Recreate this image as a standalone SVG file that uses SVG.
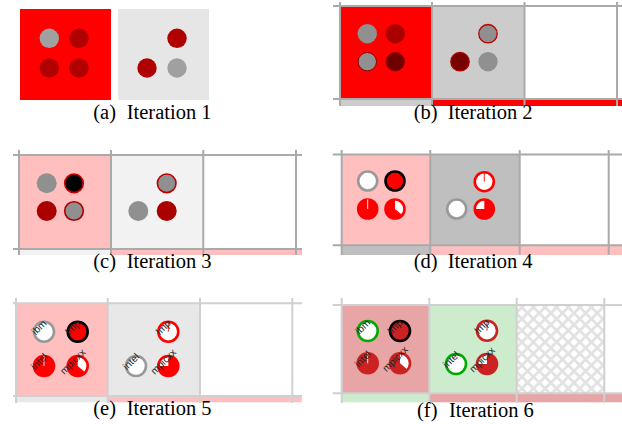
<svg xmlns="http://www.w3.org/2000/svg" width="622" height="424" viewBox="0 0 622 424">
<style>
.cap{font-family:"Liberation Serif",serif;font-size:20.5px;fill:#000}
.lbl{font-family:"Liberation Sans",sans-serif;font-size:10px;fill:#222;text-anchor:middle}
.gA{stroke:#aaaaaa;stroke-width:2;fill:none}
.gB{stroke:#d0d0d0;stroke-width:2;fill:none}
.pie{stroke-width:2.6}
</style>
<defs>
<pattern id="hatch" patternUnits="userSpaceOnUse" width="8.2" height="8.2" patternTransform="rotate(45)">
<rect width="8.2" height="8.2" fill="#ffffff"/>
<path d="M0,4.1H8.2M4.1,0V8.2" stroke="#e2e2e2" stroke-width="2.8"/>
</pattern>
</defs>
<rect width="622" height="424" fill="#ffffff"/>

<!-- (a) -->
<g id="panel-a">
<rect x="20" y="9" width="91" height="91" fill="#ff0000"/>
<rect x="118" y="9" width="91" height="91" fill="#e6e6e6"/>
<g id="a-n1"><circle cx="49.3" cy="38.3" r="9.7" fill="#a0a0a0"/></g>
<g id="a-n2"><circle cx="79" cy="38.3" r="9.7" fill="#b00000"/></g>
<g id="a-n3"><circle cx="49.3" cy="68" r="9.7" fill="#b00000"/></g>
<g id="a-n4"><circle cx="79" cy="68" r="9.7" fill="#b00000"/></g>
<g id="a-n5"><circle cx="177" cy="38.3" r="9.7" fill="#b00000"/></g>
<g id="a-n6"><circle cx="147" cy="68" r="9.7" fill="#b00000"/></g>
<g id="a-n7"><circle cx="177" cy="68" r="9.7" fill="#a0a0a0"/></g>
<text class="cap" y="119"><tspan x="93.3">(a)</tspan><tspan x="126.7">Iteration 1</tspan></text>
</g>

<!-- (b) -->
<g id="panel-b">
<rect x="340" y="6" width="92" height="93" fill="#ff0000"/>
<rect x="432" y="6" width="92.5" height="93" fill="#cccccc"/>
<rect x="340" y="99" width="92" height="7" fill="#cccccc"/>
<rect x="432" y="99" width="190" height="7" fill="#ff0000"/>
<g class="gA">
<path d="M333,6H622M333,99H622"/>
<path d="M340,2V106M432,2V106M524.5,2V106M617,2V106"/>
</g>
<g id="b-n1"><circle cx="367.3" cy="33.7" r="9.7" fill="#909090"/></g>
<g id="b-n2"><circle cx="395.3" cy="33.7" r="9.7" fill="#aa0000"/></g>
<g id="b-n3"><circle cx="367.3" cy="61.7" r="9.2" fill="#909090" stroke="#880000" stroke-width="1"/></g>
<g id="b-n4"><circle cx="395.3" cy="61.7" r="9.2" fill="#700000" stroke="#880000" stroke-width="1"/></g>
<g id="b-n5"><circle cx="488" cy="33.7" r="9.2" fill="#909090" stroke="#bb0000" stroke-width="1.3"/></g>
<g id="b-n6"><circle cx="460" cy="61.7" r="9.2" fill="#770000" stroke="#aa0000" stroke-width="1.3"/></g>
<g id="b-n7"><circle cx="488" cy="61.7" r="9.7" fill="#909090"/></g>
<text class="cap" y="119"><tspan x="413.7">(b)</tspan><tspan x="447.7">Iteration 2</tspan></text>
</g>

<!-- (c) -->
<g id="panel-c">
<rect x="19" y="155" width="92" height="94" fill="#ffbfbf"/>
<rect x="111" y="155" width="92.3" height="94" fill="#f2f2f2"/>
<rect x="19" y="249" width="92" height="6" fill="#f2f2f2"/>
<rect x="111" y="249" width="191" height="6" fill="#ffbfbf"/>
<g class="gA">
<path d="M13,155H302M13,249H302"/>
<path d="M19,150V255M111,150V255M203.3,150V255M296,150V255"/>
</g>
<g id="c-n1"><circle cx="46.7" cy="183.3" r="10" fill="#909090"/></g>
<g id="c-n2"><circle cx="74" cy="183.3" r="9.3" fill="#000000" stroke="#cc0000" stroke-width="1.6"/></g>
<g id="c-n3"><circle cx="46.7" cy="211" r="10" fill="#aa0000"/></g>
<g id="c-n4"><circle cx="74" cy="211" r="9.3" fill="#909090" stroke="#aa0000" stroke-width="1.6"/></g>
<g id="c-n5"><circle cx="166.7" cy="183.3" r="9.3" fill="#909090" stroke="#bb0000" stroke-width="1.6"/></g>
<g id="c-n6"><circle cx="138.3" cy="211" r="10" fill="#909090"/></g>
<g id="c-n7"><circle cx="166.7" cy="211" r="10" fill="#aa0000"/></g>
<text class="cap" y="268.3"><tspan x="93.3">(c)</tspan><tspan x="126.7">Iteration 3</tspan></text>
</g>

<!-- (d) -->
<g id="panel-d">
<rect x="341.7" y="154.5" width="88.6" height="90.8" fill="#ffbfbf"/>
<rect x="430.3" y="154.5" width="89.4" height="90.8" fill="#bfbfbf"/>
<rect x="341.7" y="245.3" width="88.6" height="9.7" fill="#bfbfbf"/>
<rect x="430.3" y="245.3" width="191.7" height="9.7" fill="#ffbfbf"/>
<g class="gA">
<path d="M332.7,154.5H622M332.7,245.3H622"/>
<path d="M341.7,150V255M430.3,150V255M519.7,150V255M608.7,150V255"/>
</g>
<g id="d-n1"><circle class="pie" cx="367.7" cy="181" r="9.5" fill="#ffffff" stroke="#999999"/></g>
<g id="d-n2"><circle class="pie" cx="395" cy="181" r="9.5" fill="#ff0000" stroke="#000000"/></g>
<g id="d-n3" transform="translate(367.7,209)"><circle class="pie" r="9.5" fill="#ff0000" stroke="#ff0000"/><path d="M0,0V-9.5" stroke="#ffffff" stroke-width="0.9"/></g>
<g id="d-n4" transform="translate(395,209)"><circle r="9.5" fill="#ff0000"/><path d="M0,0V-9.5A9.5,9.5 0 0 1 7.28,6.11Z" fill="#ffffff"/><circle class="pie" r="9.5" fill="none" stroke="#ff0000"/></g>
<g id="d-n5" transform="translate(484.3,181.7)"><circle class="pie" r="9.5" fill="#ffffff" stroke="#ff0000"/><path d="M0,0V-9.5" stroke="#ff0000" stroke-width="0.9"/></g>
<g id="d-n6"><circle class="pie" cx="456.7" cy="209" r="9.5" fill="#ffffff" stroke="#999999"/></g>
<g id="d-n7" transform="translate(484.3,209)"><circle r="9.5" fill="#ff0000"/><path d="M0,0H-9.5A9.5,9.5 0 0 1 0,-9.5Z" fill="#ffffff"/><circle class="pie" r="9.5" fill="none" stroke="#ff0000"/></g>
<text class="cap" y="268.3"><tspan x="413.7">(d)</tspan><tspan x="447.7">Iteration 4</tspan></text>
</g>

<!-- (e) -->
<g id="panel-e">
<rect x="16" y="303.3" width="91.7" height="92.7" fill="#ffbfbf"/>
<rect x="107.7" y="303.3" width="92.3" height="92.7" fill="#e8e8e8"/>
<rect x="16" y="396" width="91.7" height="6.3" fill="#e8e8e8"/>
<rect x="107.7" y="396" width="194" height="6.3" fill="#ffbfbf"/>
<g class="gB">
<path d="M13,303.3H302M13,396H302"/>
<path d="M16,298V403M107.7,298V403M200,298V403M292.3,298V403"/>
</g>
<g id="e-n1"><circle class="pie" cx="44" cy="331.7" r="10" fill="#ffffff" stroke="#999999"/><text class="lbl" x="41.5" y="329.7" transform="rotate(-45 41.5 329.7)">ibm</text></g>
<g id="e-n2"><circle class="pie" cx="77.7" cy="331.7" r="10" fill="#ff0000" stroke="#000000"/><text class="lbl" x="75.2" y="329.7" transform="rotate(-45 75.2 329.7)">lmp</text></g>
<g id="e-n3"><g transform="translate(44,366)"><circle class="pie" r="10" fill="#ff0000" stroke="#ff0000"/><path d="M0,0V-10" stroke="#ffffff" stroke-width="0.9"/></g><text class="lbl" x="41.5" y="364" transform="rotate(-45 41.5 364)">intel</text></g>
<g id="e-n4"><g transform="translate(77.7,366)"><circle r="10" fill="#ff0000"/><path d="M0,0V-10A10,10 0 0 1 7.66,6.43Z" fill="#ffffff"/><circle class="pie" r="10" fill="none" stroke="#ff0000"/></g><text class="lbl" x="75.2" y="364" transform="rotate(-45 75.2 364)">mpicxx</text></g>
<g id="e-n5"><g transform="translate(168.3,331.7)"><circle class="pie" r="10" fill="#ffffff" stroke="#ff0000"/><path d="M0,0V-10" stroke="#ff0000" stroke-width="0.9"/></g><text class="lbl" x="165.8" y="329.7" transform="rotate(-45 165.8 329.7)">lmp</text></g>
<g id="e-n6"><circle class="pie" cx="136" cy="366" r="10" fill="#ffffff" stroke="#999999"/><text class="lbl" x="133.5" y="364" transform="rotate(-45 133.5 364)">intel</text></g>
<g id="e-n7"><g transform="translate(168.3,366)"><circle r="10" fill="#ff0000"/><path d="M0,0H-10A10,10 0 0 1 0,-10Z" fill="#ffffff"/><circle class="pie" r="10" fill="none" stroke="#ff0000"/></g><text class="lbl" x="165.8" y="364" transform="rotate(-45 165.8 364)">mpicxx</text></g>
<text class="cap" y="415"><tspan x="93.3">(e)</tspan><tspan x="126.7">Iteration 5</tspan></text>
</g>

<!-- (f) -->
<g id="panel-f">
<rect x="341.7" y="305" width="87.6" height="88.3" fill="#e8a5a5"/>
<rect x="429.3" y="305" width="87.4" height="88.3" fill="#cdeccd"/>
<rect x="516.7" y="305" width="87.6" height="88.3" fill="url(#hatch)"/>
<rect x="341.7" y="393.3" width="87.6" height="9" fill="#cdeccd"/>
<rect x="429.3" y="393.3" width="192.7" height="9" fill="#e8a5a5"/>
<g class="gB">
<path d="M332.7,305H622M332.7,393.3H622"/>
<path d="M341.7,298V403M429.3,298V403M516.7,298V403M604.3,298V403"/>
</g>
<g id="f-n1"><circle class="pie" cx="367.7" cy="331" r="10" fill="#ffffff" stroke="#00aa00"/><text class="lbl" x="365.2" y="329" transform="rotate(-45 365.2 329)">ibm</text></g>
<g id="f-n2"><circle class="pie" cx="400" cy="331" r="10" fill="#cc2222" stroke="#000000"/><text class="lbl" x="397.5" y="329" transform="rotate(-45 397.5 329)">lmp</text></g>
<g id="f-n3"><g transform="translate(367.7,363.3)"><circle class="pie" r="10" fill="#cc2222" stroke="#cc2222"/><path d="M0,0V-10" stroke="#ffffff" stroke-width="0.9"/></g><text class="lbl" x="365.2" y="361.3" transform="rotate(-45 365.2 361.3)">intel</text></g>
<g id="f-n4"><g transform="translate(400,363.3)"><circle r="10" fill="#cc2222"/><path d="M0,0V-10A10,10 0 0 1 7.66,6.43Z" fill="#ffffff"/><circle class="pie" r="10" fill="none" stroke="#cc2222"/></g><text class="lbl" x="397.5" y="361.3" transform="rotate(-45 397.5 361.3)">mpicxx</text></g>
<g id="f-n5"><g transform="translate(487,330.7)"><circle class="pie" r="10" fill="#ffffff" stroke="#cc2222"/><path d="M0,0V-10" stroke="#cc2222" stroke-width="0.9"/></g><text class="lbl" x="484.5" y="328.7" transform="rotate(-45 484.5 328.7)">lmp</text></g>
<g id="f-n6"><circle class="pie" cx="456" cy="364" r="10" fill="#ffffff" stroke="#00aa00"/><text class="lbl" x="453.5" y="362" transform="rotate(-45 453.5 362)">intel</text></g>
<g id="f-n7"><g transform="translate(487,364)"><circle r="10" fill="#cc2222"/><path d="M0,0H-10A10,10 0 0 1 0,-10Z" fill="#ffffff"/><circle class="pie" r="10" fill="none" stroke="#cc2222"/></g><text class="lbl" x="484.5" y="362" transform="rotate(-45 484.5 362)">mpicxx</text></g>
<text class="cap" y="416.7"><tspan x="417">(f)</tspan><tspan x="449">Iteration 6</tspan></text>
</g>

<g id="connectors"/>
</svg>
